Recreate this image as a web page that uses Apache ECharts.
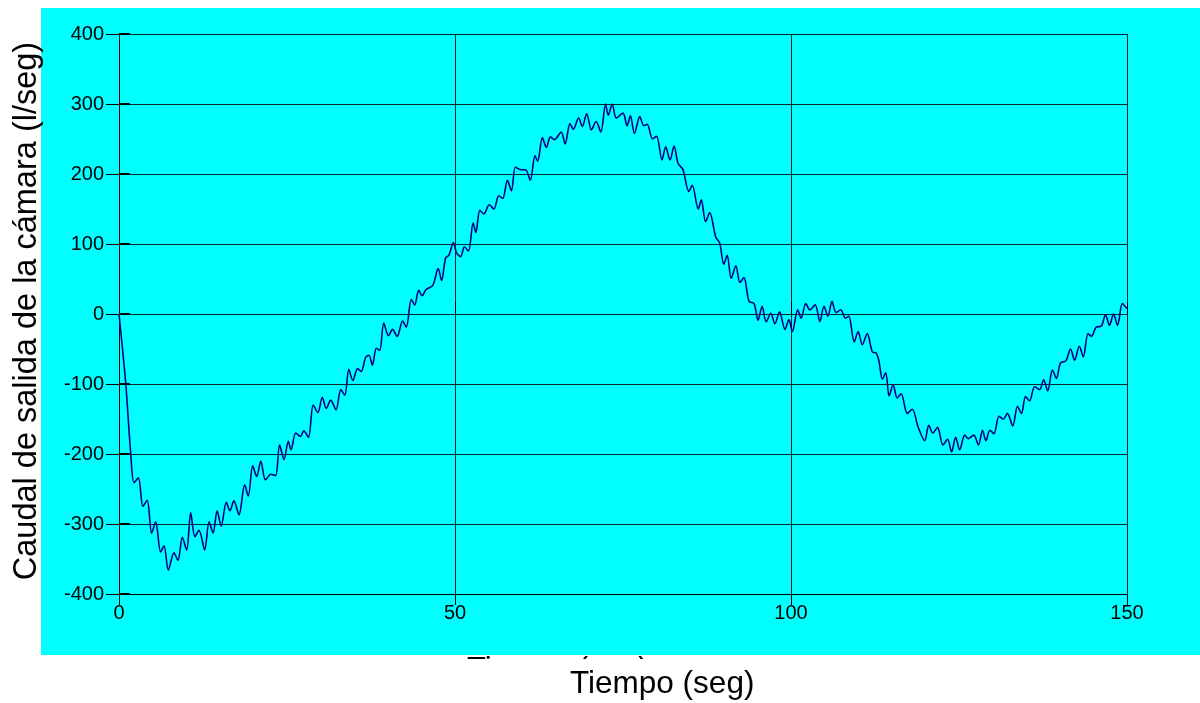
<!DOCTYPE html>
<html>
<head>
<meta charset="utf-8">
<script src="https://cdn.jsdelivr.net/npm/echarts@6/dist/echarts.min.js"></script>
<style>html,body{margin:0;padding:0;background:#fff;}#c{width:1200px;height:703px;}</style>
</head>
<body>
<div id="c"></div>
<script>
var xTitle = 'Tiempo (seg)';
var yTitle = 'Caudal de salida de la cámara (l/seg)';
var xTicks = [0, 50, 100, 150];
var yTicks = [-400, -300, -200, -100, 0, 100, 200, 300, 400];

var tiempo = [0, 1.0, 1.74, 2.23, 2.88, 3.57, 4.2, 4.86, 5.46, 6.2, 6.7, 7.34, 8.18, 8.78, 9.42, 10.07, 10.67, 11.3, 11.9, 12.75,
  13.4, 14.0, 14.6, 15.2, 15.97, 16.5, 17.1, 17.86, 18.7, 19.24, 19.9, 20.5, 21.1, 21.8, 22.6, 23.3, 23.9, 24.55, 25.2, 25.6,
  26.3, 27.0, 27.5, 28.2, 28.9, 29.6, 30.25, 30.85, 31.5, 32.3, 33.0, 33.6, 34.2, 34.8, 35.5, 36.05, 36.7, 37.2, 37.7, 38.3,
  38.8, 39.4, 40.1, 40.7, 41.4, 42.2, 42.75, 43.5, 44.0, 44.6, 45.1, 45.7, 46.7, 47.5, 48.0, 48.6, 49.1, 49.75, 50.25, 50.85,
  51.4, 52.0, 52.7, 53.1, 53.7, 54.3, 55.1, 55.8, 56.5, 57.1, 57.8, 58.4, 59.0, 59.8, 60.5, 61.2, 61.9, 62.3, 63.0, 63.6,
  64.2, 64.8, 65.8, 66.4, 67.1, 67.6, 68.4, 68.95, 69.6, 70.3, 71.0, 71.7, 72.4, 72.8, 73.4, 74.0, 75.0, 75.6, 76.1, 76.7,
  77.5, 78.1, 78.6, 79.4, 80.0, 80.8, 81.35, 82.0, 82.6, 83.2, 83.9, 84.8, 85.3, 86.2, 86.65, 87.3, 87.9, 88.8, 89.4, 90.0,
  90.5, 91.1, 91.8, 92.4, 93.0, 93.75, 94.5, 95.1, 95.7, 96.3, 97.0, 97.6, 98.3, 99.1, 99.7, 100.2, 101.0, 101.5, 102.2, 102.8,
  103.6, 104.3, 104.9, 105.5, 106.1, 106.7, 107.4, 108.1, 108.6, 109.4, 110.0, 110.6, 111.35, 112.1, 112.7, 113.1, 113.6, 114.1, 114.6, 115.2,
  115.8, 116.4, 117.3, 118.05, 118.9, 119.9, 120.5, 121.1, 121.8, 122.6, 123.3, 123.9, 124.5, 125.1, 125.85, 126.4, 127.2, 127.9, 128.5, 129.0,
  129.6, 130.2, 130.95, 131.6, 132.2, 133.0, 133.7, 134.3, 134.9, 135.5, 136.25, 137.0, 137.6, 138.2, 138.9, 139.5, 140.1, 140.9, 141.6, 142.2,
  142.9, 143.5, 144.2, 144.7, 145.4, 146.2, 146.8, 147.4, 148.0, 148.6, 149.3, 149.8, 150];

var caudal = [0, -99, -199, -241, -234, -275, -266, -313, -297, -340, -331, -366, -341, -352, -319, -337, -284, -318, -309, -337,
  -297, -313, -281, -303, -269, -281, -267, -287, -244, -260, -217, -232, -210, -237, -229, -231, -187, -208, -182, -194,
  -170, -175, -167, -176, -130, -141, -119, -135, -123, -137, -108, -116, -79, -95, -78, -82, -62, -59, -73, -49,
  -52, -13, -31, -22, -32, -10, -19, 21, 13, 34, 26, 35, 41, 65, 48, 80, 84, 102, 87, 82,
  96, 90, 130, 116, 148, 143, 156, 150, 169, 165, 191, 176, 210, 206, 206, 191, 226, 218, 252, 238,
  253, 249, 260, 243, 272, 264, 280, 268, 286, 263, 275, 260, 300, 284, 300, 280, 287, 269, 283, 258,
  282, 269, 271, 250, 254, 220, 239, 220, 240, 215, 207, 175, 184, 150, 163, 132, 145, 110, 101, 71,
  84, 51, 69, 45, 52, 18, 15, -9, 11, -11, 1, -14, 3, -22, -8, -25, 6, -6, 15, 6,
  13, -11, 11, -3, 18, 2, 6, -6, -3, -40, -25, -44, -28, -54, -56, -68, -93, -84, -117, -101,
  -120, -114, -142, -136, -161, -181, -159, -170, -162, -187, -179, -197, -176, -194, -173, -178, -173, -187, -166, -181,
  -166, -171, -146, -150, -142, -160, -132, -142, -118, -124, -104, -108, -94, -110, -80, -92, -70, -67, -50, -66,
  -46, -61, -28, -32, -19, -17, -1, -16, 0, -16, 15, 10, 8];

var data = tiempo.map(function (t, i) { return [t, caudal[i]]; });

var chart = echarts.init(document.getElementById('c'));
var font = '"Liberation Sans", Arial, sans-serif';
var gridColor = '#0b2b2b';
chart.setOption({
  animation: false,
  backgroundColor: '#ffffff',
  grid: { left: 119, right: 73, top: 34, bottom: 109, containLabel: false },
  graphic: [
    { type: 'rect', z: -10, silent: true, shape: { x: 41, y: 8, width: 1159, height: 647 }, style: { fill: '#00ffff' } },
    { type: 'text', z: -20, silent: true, x: 467, y: 655, style: { text: xTitle, font: '31px ' + font, fill: '#000', textVerticalAlign: 'top' } },
    { type: 'rect', z: -15, silent: true, shape: { x: 430, y: 659, width: 320, height: 44 }, style: { fill: '#ffffff' } },
    { type: 'text', z: 10, silent: true, x: 570, y: 668, style: { text: xTitle, font: '31.5px ' + font, fill: '#000', textVerticalAlign: 'top' } },
    { type: 'text', z: 10, silent: true, x: 27, y: 311, rotation: Math.PI / 2,
      style: { text: yTitle, font: '32.5px ' + font, fill: '#000', textAlign: 'center', textVerticalAlign: 'middle' } }
  ],
  xAxis: [{
    type: 'value', min: 0, max: 150, interval: 50,
    axisLine: { show: true, onZero: false, lineStyle: { color: '#000', width: 1 } },
    axisTick: { show: true, length: 11, lineStyle: { color: '#000' } },
    axisLabel: { color: '#000', fontSize: 20, fontFamily: font, margin: 9,
      formatter: function (v) { return xTicks.indexOf(v) >= 0 ? String(v) : ''; } },
    splitLine: { show: true, lineStyle: { color: gridColor, width: 1 } }
  }, {
    type: 'value', min: 0, max: 150, interval: 50, position: 'bottom',
    axisLine: { show: false }, axisLabel: { show: false }, splitLine: { show: false },
    axisTick: { show: true, inside: true, length: 12, lineStyle: { color: '#000' } }
  }],
  yAxis: [{
    type: 'value', min: -400, max: 400, interval: 100,
    axisLine: { show: true, onZero: false, lineStyle: { color: '#000', width: 1 } },
    axisTick: { show: true, length: 13, lineStyle: { color: '#000' } },
    axisLabel: { color: '#000', fontSize: 20, fontFamily: font, margin: 15,
      formatter: function (v) { return yTicks.indexOf(v) >= 0 ? String(v) : ''; } },
    splitLine: { show: true, lineStyle: { color: gridColor, width: 1 } }
  }, {
    type: 'value', min: -400, max: 400, interval: 100, position: 'left',
    axisLine: { show: false }, axisLabel: { show: false }, splitLine: { show: false },
    axisTick: { show: true, inside: true, length: 11, lineStyle: { color: '#000', width: 2 } }
  }],
  series: [{
    type: 'line', data: data, showSymbol: false, smooth: 0.3,
    lineStyle: { color: '#000080', width: 1.6 }, z: 5
  }]
});
</script>
</body>
</html>
